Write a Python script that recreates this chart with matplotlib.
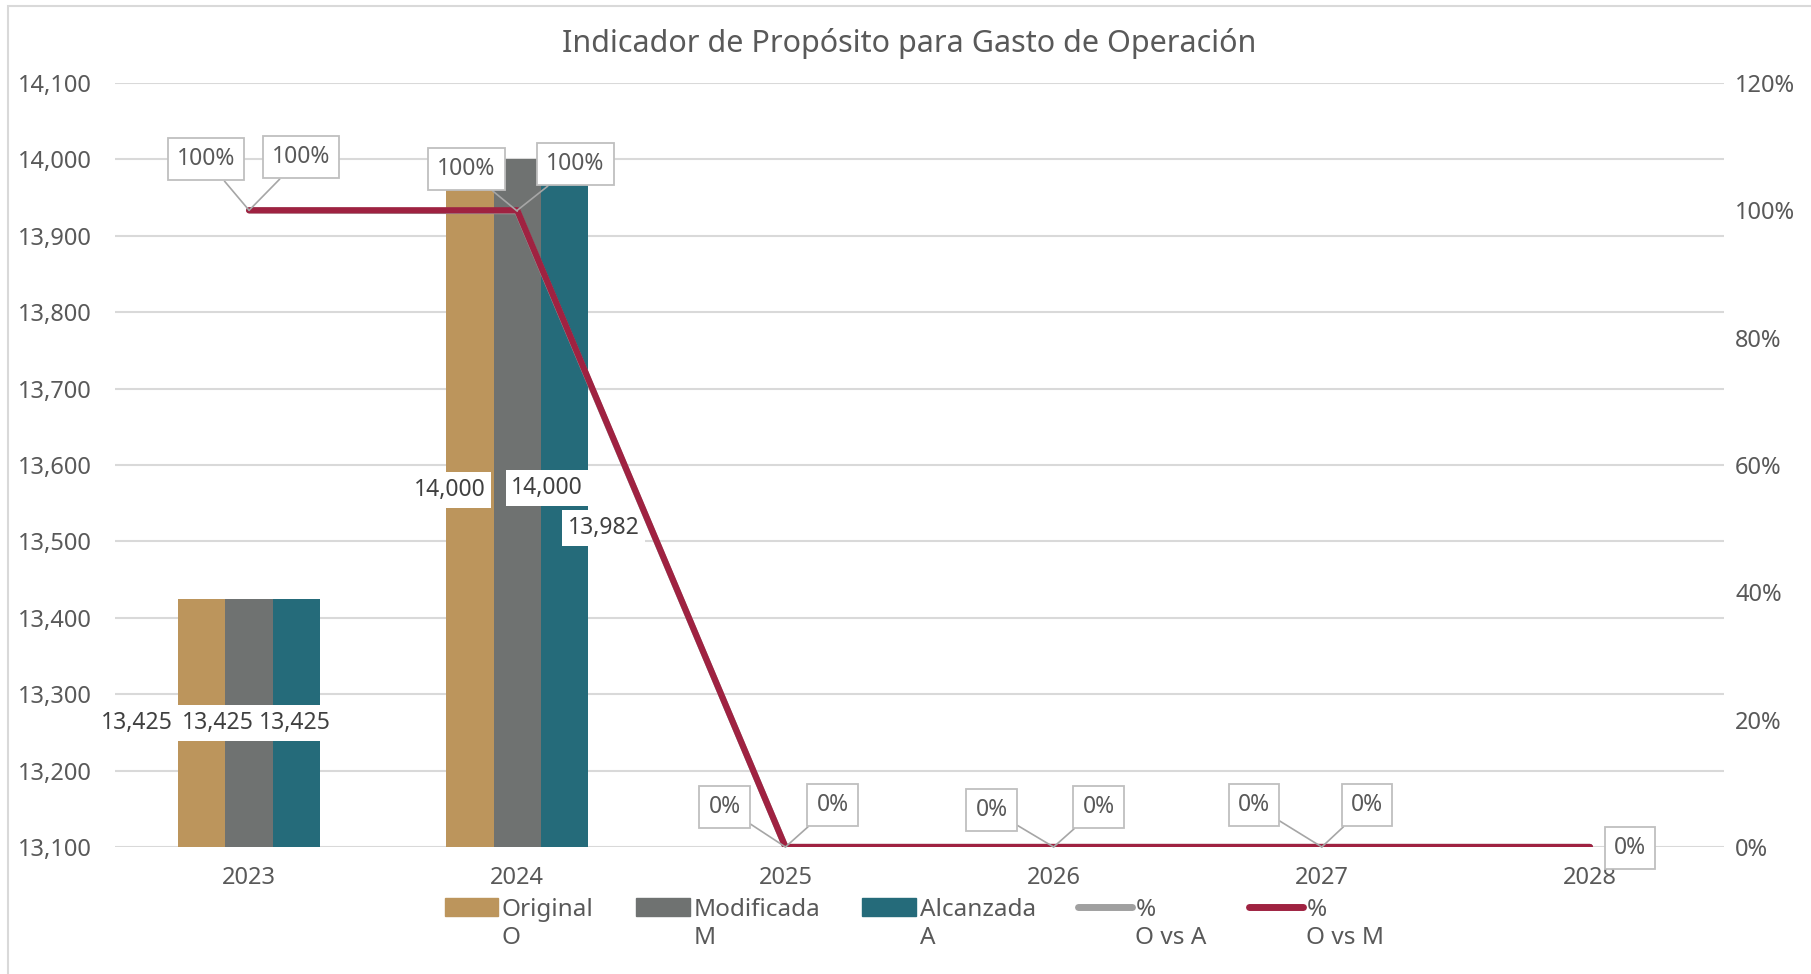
import matplotlib
matplotlib.use("Agg")
import matplotlib.pyplot as plt
from matplotlib.patches import Rectangle, Patch
from matplotlib.lines import Line2D
import numpy as np

# ---------------- DATA ----------------
years = ["2023", "2024", "2025", "2026", "2027", "2028"]
original = [13425, 14000]
modificada = [13425, 14000]
alcanzada = [13425, 13982]
pct_o_vs_a = [1.0, 0.9987, 0.0, 0.0, 0.0, 0.0]
pct_o_vs_m = [1.0, 1.0, 0.0, 0.0, 0.0, 0.0]

series_names = ["Original\nO", "Modificada\nM", "Alcanzada\nA", "%\nO vs A", "%\nO vs M"]
bar_colors = ["#BC955C", "#6F7271", "#256B7A"]
line_colors = ["#A0A0A0", "#9F2241"]

# label offsets in pixels (dx, dy) picked to match the reference layout
bar_label_offsets = [
    [(-65, 0), (-31, 0), (-2, 0)],
    [(-20, 13), (30, 15), (39, -18)],
]
pct_a_offsets = [(-43, 51), (-51, 42), (-61, 40), (-62, 37), (-68, 42), None]
pct_m_offsets = [(52, 53), (58, 46), (47, 42), (45, 40), (45, 42), (40, -1)]

text_color = "#595959"
grid_color = "#D9D9D9"

plt.rcParams["font.family"] = ["Noto Sans", "DejaVu Sans"]

# ---------------- FIGURE ----------------
fig = plt.figure(figsize=(18.11, 9.74), dpi=100)
ax = fig.add_axes([0.0635, 0.1304, 0.8885, 0.7844])
ax2 = ax.twinx()

x = np.arange(len(years))
width = 0.177
bar_sets = [original, modificada, alcanzada]
for i, (vals, col) in enumerate(zip(bar_sets, bar_colors)):
    xs = x[:len(vals)] + (i - 1) * width
    ax.bar(xs, vals, width=width, bottom=0, color=col, zorder=2)
    for j, v in enumerate(vals):
        mid = (13100 + v) / 2
        dx, dy = bar_label_offsets[j][i]
        ax.annotate(f"{v:,}", xy=(xs[j], mid), xytext=(dx, dy),
                    textcoords="offset pixels", ha="center", va="center",
                    fontsize=16.5, color="#404040", zorder=5,
                    bbox=dict(boxstyle="square,pad=0.25", fc="white", ec="none"))

ax.set_ylim(13100, 14100)
ax.set_yticks(np.arange(13100, 14101, 100))
ax.set_yticklabels([f"{v:,}" for v in range(13100, 14101, 100)])
ax.set_xlim(-0.5, len(years) - 0.5)
ax.set_xticks(x)
ax.set_xticklabels(years)
ax.grid(axis="y", color=grid_color, linewidth=1.5, zorder=0)
ax.set_axisbelow(True)

ax2.plot(x, pct_o_vs_a, color=line_colors[0], linewidth=4.5, zorder=3,
         solid_capstyle="round")
ax2.plot(x, pct_o_vs_m, color=line_colors[1], linewidth=4.5, zorder=4,
         solid_capstyle="round")
ax2.set_ylim(0, 1.2)
ax2.set_yticks(np.arange(0, 1.21, 0.2))
ax2.set_yticklabels([f"{int(round(v * 100))}%" for v in np.arange(0, 1.21, 0.2)])

box = dict(boxstyle="square,pad=0.4", fc="white", ec="#BFBFBF", lw=1.3)
leader = dict(arrowstyle="-", color="#A6A6A6", lw=1.2, shrinkA=0, shrinkB=0)
for vals, offs in [(pct_o_vs_a, pct_a_offsets), (pct_o_vs_m, pct_m_offsets)]:
    for j, v in enumerate(vals):
        if offs[j] is None:
            continue
        arrow = leader if j < len(vals) - 1 else None
        ax2.annotate(f"{v:.0%}", xy=(x[j], v), xytext=offs[j],
                     textcoords="offset pixels", ha="center", va="center",
                     fontsize=16.5, color=text_color, bbox=box,
                     arrowprops=arrow, zorder=6, annotation_clip=False)

for a in (ax, ax2):
    for s in a.spines.values():
        s.set_visible(False)
    a.tick_params(length=0, labelsize=17, labelcolor=text_color)
ax.tick_params(axis="y", pad=17)
ax.tick_params(axis="x", pad=14)
ax2.tick_params(axis="y", pad=8)
ax2.set_zorder(ax.get_zorder() + 1)

fig.text(0.502, 0.955, "Indicador de Propósito para Gasto de Operación",
         ha="center", va="center", fontsize=22, color=text_color)

handles = [Patch(color=c) for c in bar_colors] + \
          [Line2D([0], [0], color=c, linewidth=5, solid_capstyle="round") for c in line_colors]
leg = fig.legend(handles, series_names, loc="upper center", bbox_to_anchor=(0.505, 0.1),
                 ncol=5, frameon=False, fontsize=17.5, labelcolor=text_color,
                 handlelength=2.2, handleheight=0.75, handletextpad=0.15,
                 columnspacing=1.75)
# put the colour key next to the first line of each two-line label
for col in leg._legend_handle_box.get_children():
    for row in col.get_children():
        row.align = "top"

fig.patches.append(Rectangle((0.0045, -0.01), 1.1, 1.004, transform=fig.transFigure,
                             fill=False, ec="#D9D9D9", lw=1.5))

fig.savefig("out.png", dpi=100)
